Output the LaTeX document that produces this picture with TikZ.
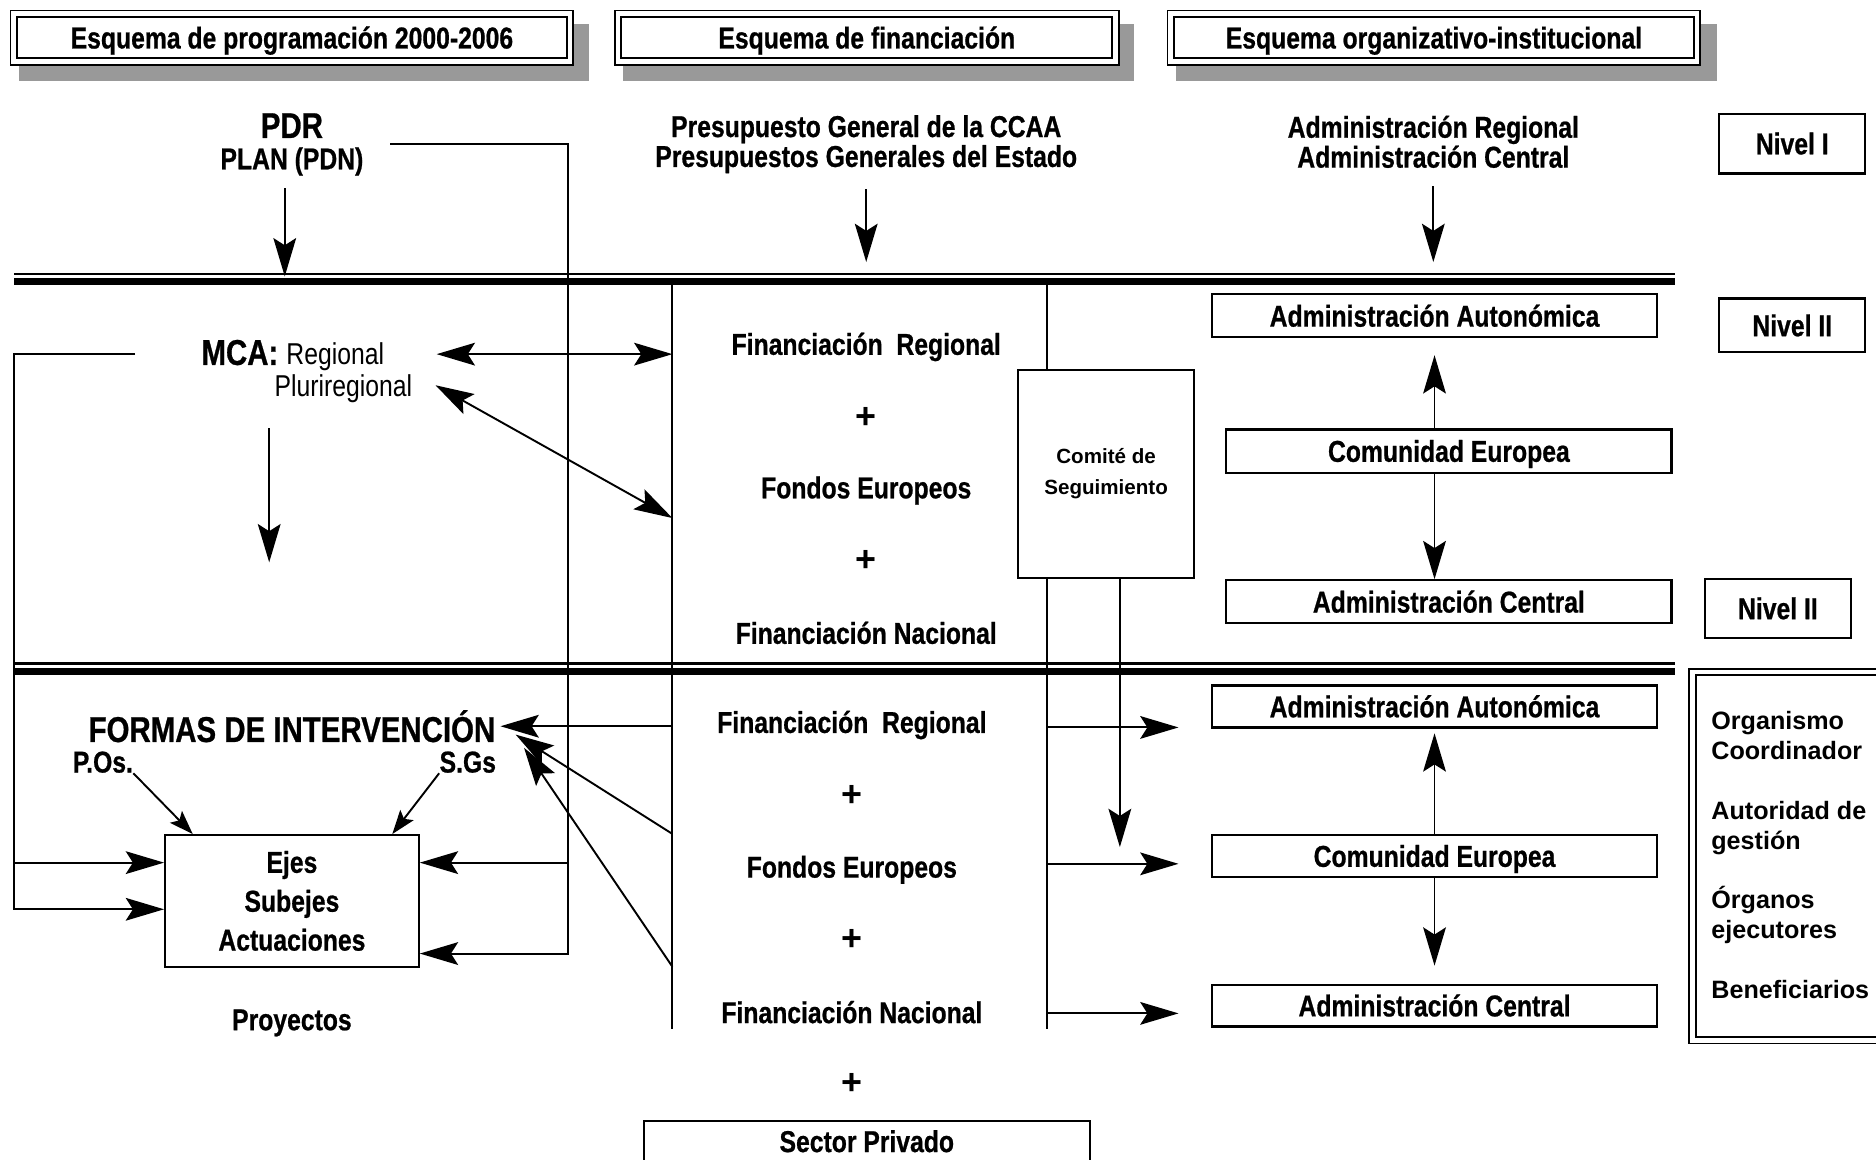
\documentclass[tikz,border=0pt]{standalone}
\usepackage{fontspec}
\setmainfont{Liberation Sans}[FakeStretch=0.82, BoldFeatures={FakeBold=0.7}]
\newfontfamily\anchafont{Liberation Sans}
\usepackage[usenames,dvipsnames]{xcolor}
\usepackage{tikz}
\usetikzlibrary{arrows.meta}

\tikzset{
  texto/.style={font=\bfseries\fontsize{12.6}{12.5}\selectfont, inner sep=0pt, align=center},
  grande/.style={font=\bfseries\fontsize{15}{16}\selectfont, inner sep=0pt},
  mas/.style={font=\anchafont\bfseries\fontsize{15}{15}\selectfont, inner sep=0pt},
  caja/.style={draw, line width=0.9pt, inner sep=0pt, texto},
  cajauna/.style={caja, text height=9pt, text depth=0pt},
  cabecera/.style={draw, double, double distance=2pt, line width=0.8pt, fill=white, inner sep=0pt, texto, text height=9pt, text depth=0pt},
  sombra/.style={fill=black!40},
  linea/.style={line width=0.8pt},
  flecha/.style={line width=0.8pt, -{Stealth[length=16pt, width=9.5pt, inset=3pt]}},
  flechas/.style={line width=0.8pt, {Stealth[length=16pt, width=9.5pt, inset=3pt]}-{Stealth[length=16pt, width=9.5pt, inset=3pt]}},
  flechita/.style={line width=0.8pt, -{Stealth[length=10pt, width=7pt, inset=2pt]}},
}

\begin{document}
\begin{tikzpicture}[x=0.5pt, y=-0.5pt]

\useasboundingbox (0,0) rectangle (1568,969);

% CABECERAS

\fill[sombra] (16,20) rectangle (492,68);
\fill[sombra] (521,20) rectangle (948,68);
\fill[sombra] (983,20) rectangle (1435,68);

\node[cabecera, minimum width=232.4pt, minimum height=19.9pt] (cab1) at (244,31.5) {Esquema de programación 2000-2006};
\node[cabecera, minimum width=207.9pt, minimum height=19.9pt] (cab2) at (724.5,31.5) {Esquema de financiación};
\node[cabecera, minimum width=219.9pt, minimum height=19.9pt] (cab3) at (1198.5,31.5) {Esquema organizativo-institucional};

% separadores

\draw[line width=0.9pt] (12,228.7) -- (1400,228.7);
\draw[line width=2.95pt] (12,235.3) -- (1400,235.3);
\draw[line width=0.9pt] (12,554.5) -- (1400,554.5);
\draw[line width=2.95pt] (12,561.2) -- (1400,561.2);


% NIVEL I

\node[grande] (pdr) at (244,105) {PDR};
\node[texto] (plan) at (244,135) {PLAN (PDN)};
\node[texto] (presu) at (724,120.5) {Presupuesto General de la CCAA\\Presupuestos Generales del Estado};
\node[texto] (admin) at (1198,118.5) {Administración Regional\\Administración Central};
\node[cajauna, minimum width=61pt, minimum height=25pt] (niv1) at (1498,120) {Nivel I};

\coordinate (l1pdr) at (238,231);
\coordinate (l1fin) at (724,219);
\coordinate (l1org) at (1198,219);

\draw[flecha, shorten <=5pt] (plan.south -| l1pdr) -- (l1pdr);
\draw[flecha, shorten <=6.5pt] (presu.south) -- (l1fin);
\draw[flecha, shorten <=7.5pt] (admin.south) -- (l1org);


% NIVEL II

\node[grande, anchor=base west] (mca) at (168,305) {MCA: {\mdseries\fontsize{12.6}{12.5}\selectfont Regional}};
\node[texto, font=\fontsize{12.6}{12.5}\selectfont] (pluri) at (287,325) {Pluriregional};

\node[texto] (fr1) at (724,290) {Financiación\ \ Regional};
\node[mas] (mas1) at (724,349) {+};
\node[texto] (fe1) at (724,410) {Fondos Europeos};
\node[mas] (mas2) at (724,469) {+};
\node[texto] (fn1) at (724,529) {Financiación Nacional};

\node[caja, minimum width=73.5pt, minimum height=87pt, font=\anchafont\bfseries\fontsize{8.6}{13}\selectfont] (comite) at (924.5,396) {Comité de\\Seguimiento};

\node[cajauna, minimum width=186pt, minimum height=18pt] (aa1) at (1199,264) {Administración Autonómica};
\node[cajauna, minimum width=186pt, minimum height=18pt] (ce1) at (1211,377) {Comunidad Europea};
\node[cajauna, minimum width=186pt, minimum height=18pt] (ac1) at (1211,503) {Administración Central};
\node[cajauna, minimum width=61pt, minimum height=22.5pt] (niv2) at (1498,272) {Nivel II};
\node[cajauna, minimum width=61pt, minimum height=24.5pt] (niv3) at (1486,508.5) {Nivel II};

% lineas verticales
\coordinate (vfSup) at (562,238);
\coordinate (vfInf) at (562,860);
\coordinate (voSup) at (875,238);
\coordinate (voInf) at (875,860);

\draw[linea] (vfSup) -- (vfInf);
\draw[linea] (voSup) -- (comite.north -| voSup);
\draw[linea] (comite.south -| voInf) -- (voInf);

% MCA <-> financiacion
\coordinate (mcaD) at (365,296);
\coordinate (pluriD) at (364,322);
\coordinate (vfD) at (562,433);
\coordinate (mcaBajoA) at (225,358);
\coordinate (mcaBajoB) at (225,470);

\draw[flechas] (mcaD) -- (mcaD -| vfSup);
\draw[flechas] (pluriD) -- (vfD);
\draw[flecha] (mcaBajoA) -- (mcaBajoB);

% comunidad europea -> administraciones
\draw[flecha, shorten >=7pt] (ce1.north -| aa1.south) -- (aa1.south);
\draw[flecha] (ce1.south -| aa1.south) -- (ac1.north -| aa1.south);


% NIVEL III

\node[grande] (formas) at (244,607) {FORMAS DE INTERVENCIÓN};
\node[texto] (pos) at (86,637) {P.Os.};
\node[texto] (sgs) at (391,637) {S.Gs};
\node[caja, minimum width=106pt, minimum height=55pt, font=\bfseries\fontsize{12.6}{16.25}\selectfont] (ejes) at (244,753) {Ejes\\Subejes\\Actuaciones};
\node[texto] (proy) at (244,855) {Proyectos};

\node[texto] (fr2) at (712,606) {Financiación\ \ Regional};
\node[mas] (mas3) at (712,665) {+};
\node[texto] (fe2) at (712,727) {Fondos Europeos};
\node[mas] (mas4) at (712,786) {+};
\node[texto] (fn2) at (712,846) {Financiación Nacional};
\node[mas] (mas5) at (712,906) {+};
\node[cajauna, anchor=north, minimum width=186.5pt, minimum height=17pt] (privado) at (724.5,936) {Sector Privado};
\draw[line width=0.9pt] (privado.south west) -- ++(0,20) (privado.south east) -- ++(0,20);

\node[cajauna, minimum width=186pt, minimum height=17.5pt] (aa2) at (1199,590.5) {Administración Autonómica};
\node[cajauna, minimum width=186pt, minimum height=17.5pt] (ce2) at (1199,715.5) {Comunidad Europea};
\node[cajauna, minimum width=186pt, minimum height=17.5pt] (ac2) at (1199,840.5) {Administración Central};

\node[draw, double, double distance=2pt, line width=0.8pt, minimum width=92.7pt, minimum height=153.9pt] (marco) at (1507.3,715.5) {};
\node[anchor=north west, inner sep=0pt, align=left, font=\anchafont\bfseries\fontsize{10.5}{12.5}\selectfont] (roles) at (1430,594) {Organismo\\Coordinador\\[12.5pt]Autoridad de\\gestión\\[12.5pt]Órganos\\ejecutores\\[12.5pt]Beneficiarios};

% PDR y MCA -> ejes
\coordinate (progIni) at (326,120);
\coordinate (progMed) at (475,721);
\coordinate (progFin) at (475,797);
\coordinate (mcaIzq) at (113,296);
\coordinate (izqA) at (12,721);
\coordinate (izqB) at (12,760);

\draw[flecha] (progIni) -| (progFin) -- (progFin -| ejes.east);
\draw[flecha] (progMed) -- (progMed -| ejes.east);
\draw[flecha] (mcaIzq) -| (izqB) -- (izqB -| ejes.west);
\draw[flecha] (izqA) -- (izqA -| ejes.west);
\draw[flechita] (pos.south east) -- ([xshift=12pt]ejes.north west);
\draw[flechita] (sgs.south west) -- ([xshift=-11.5pt]ejes.north east);

% financiacion -> formas
\coordinate (fdA) at (562,697);
\coordinate (fdB) at (562,808);
\coordinate (formasT1) at (431,614);
\coordinate (formasT2) at (438,625);

\draw[flecha, shorten >=2pt] (formas.east -| vfSup) -- (formas.east);
\draw[flecha] (fdA) -- (formasT1);
\draw[flecha] (fdB) -- (formasT2);

% financiacion -> administraciones
\coordinate (der1) at (985,608);
\coordinate (der2) at (985,722);
\coordinate (der3) at (985,847);
\coordinate (segFin) at (936,708);

\draw[flecha] (der1 -| voInf) -- (der1);
\draw[flecha] (der2 -| voInf) -- (der2);
\draw[flecha] (der3 -| voInf) -- (der3);
\draw[flecha] (comite.south -| segFin) -- (segFin);

% comunidad europea -> administraciones
\draw[flecha, shorten >=2pt] (ce2.north) -- (aa2.south);
\draw[flecha, shorten >=7.5pt] (ce2.south) -- (ac2.north);

\end{tikzpicture}
\end{document}
